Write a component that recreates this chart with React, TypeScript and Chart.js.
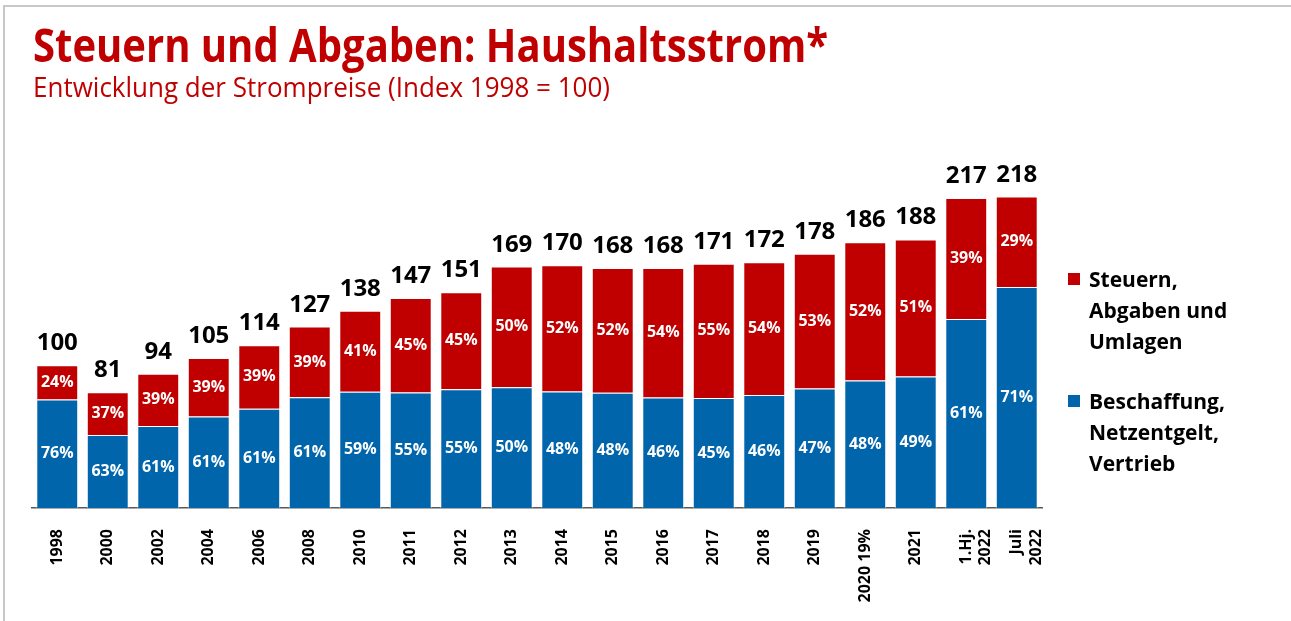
import React, { useEffect, useRef } from "react";
import { Chart, registerables } from "chart.js";

Chart.register(...registerables);

// ---- Data ----
const categories: (string | string[])[] = [
  "1998", "2000", "2002", "2004", "2006", "2008", "2010", "2011", "2012", "2013",
  "2014", "2015", "2016", "2017", "2018", "2019", "2020 19%", "2021",
  ["1.Hj.", "2022"], ["Juli", "2022"],
];
const totals = [100, 81, 94, 105, 114, 127, 138, 147, 151, 169, 170, 168, 168, 171, 172, 178, 186, 188, 217, 218];
const taxShare = [24, 37, 39, 39, 39, 39, 41, 45, 45, 50, 52, 52, 54, 55, 54, 53, 52, 51, 39, 29];
const supplyShare = [76, 63, 61, 61, 61, 61, 59, 55, 55, 50, 48, 48, 46, 45, 46, 47, 48, 49, 61, 71];
const seriesNames = ["Beschaffung, Netzentgelt, Vertrieb", "Steuern, Abgaben und Umlagen"];
const legendLines = [
  ["Steuern,", "Abgaben und", "Umlagen"],
  ["Beschaffung,", "Netzentgelt,", "Vertrieb"],
];
const titleText = "Steuern und Abgaben: Haushaltsstrom*";
const subtitleText = "Entwicklung der Strompreise (Index 1998 = 100)";

const supplyValues = totals.map((t, i) => (t * supplyShare[i]) / 100);
const taxValues = totals.map((t, i) => t - supplyValues[i]);
const shares = [supplyShare, taxShare];

const RED = "#C00000";
const BLUE = "#0065AB";
const FONT = "'Open Sans', 'DejaVu Sans', sans-serif";

const textPlugin = {
  id: "customText",
  afterDraw(chart: any) {
    const ctx = chart.ctx as CanvasRenderingContext2D;
    ctx.save();
    // Title & subtitle (condensed to match reference width)
    const drawFitted = (txt: string, font: string, x: number, y: number, w: number, color: string) => {
      ctx.font = font;
      ctx.fillStyle = color;
      ctx.textAlign = "left";
      ctx.textBaseline = "alphabetic";
      const mw = ctx.measureText(txt).width;
      ctx.save();
      ctx.translate(x, y);
      ctx.scale(w / mw, 1);
      ctx.fillText(txt, 0, 0);
      ctx.restore();
    };
    drawFitted(titleText, `bold 46px ${FONT}`, 33, 62, 795, RED);
    drawFitted(subtitleText, `28px ${FONT}`, 33, 97, 577, RED);

    // Legend
    const legendColors = [RED, BLUE];
    const legendTop = [287, 409];
    ctx.font = `bold 21px ${FONT}`;
    ctx.textAlign = "left";
    ctx.textBaseline = "alphabetic";
    legendLines.forEach((lines, k) => {
      ctx.fillStyle = legendColors[k];
      ctx.fillRect(1068, legendTop[k] - 14, 12, 12);
      ctx.fillStyle = "#000";
      lines.forEach((ln, j) => ctx.fillText(ln, 1089, legendTop[k] + j * 31));
    });
    ctx.restore();
  },
  afterDatasetsDraw(chart: any) {
    const ctx = chart.ctx as CanvasRenderingContext2D;
    ctx.save();
    ctx.textAlign = "center";
    ctx.textBaseline = "middle";
    ctx.font = `bold 16px ${FONT}`;
    ctx.fillStyle = "#fff";
    chart.data.datasets.forEach((ds: any, di: number) => {
      const meta = chart.getDatasetMeta(di);
      meta.data.forEach((el: any, i: number) => {
        ctx.fillText(`${shares[di][i]}%`, el.x, (el.y + el.base) / 2);
      });
    });
    const topMeta = chart.getDatasetMeta(chart.data.datasets.length - 1);
    ctx.font = `bold 24px ${FONT}`;
    ctx.fillStyle = "#000";
    ctx.textBaseline = "alphabetic";
    topMeta.data.forEach((el: any, i: number) => {
      ctx.fillText(String(totals[i]), el.x, el.y - 15);
    });
    ctx.restore();
  },
};

export default function App() {
  const ref = useRef<HTMLCanvasElement>(null);
  useEffect(() => {
    if (!ref.current) return;
    const chart = new Chart(ref.current, {
      type: "bar",
      data: {
        labels: categories as any,
        datasets: [
          {
            label: seriesNames[0],
            data: supplyValues,
            backgroundColor: BLUE,
            borderColor: "rgba(255,255,255,0.6)",
            borderWidth: 1,
            barPercentage: 0.83,
            categoryPercentage: 1,
          },
          {
            label: seriesNames[1],
            data: taxValues,
            backgroundColor: RED,
            borderColor: "rgba(255,255,255,0.6)",
            borderWidth: 1,
            barPercentage: 0.83,
            categoryPercentage: 1,
          },
        ],
      },
      options: {
        responsive: false,
        animation: false,
        layout: { padding: { left: 32, right: 249, top: 153, bottom: 0 } },
        plugins: {
          legend: { display: false },
          title: { display: false },
          tooltip: { enabled: false },
        },
        scales: {
          x: {
            stacked: true,
            grid: { display: false },
            border: { display: true, color: "#595959", width: 1.5 },
            ticks: {
              autoSkip: false,
              minRotation: 90,
              maxRotation: 90,
              padding: 13,
              color: "#000",
              font: { family: FONT, size: 16, weight: "bold" },
            },
            afterFit: (scale: any) => {
              scale.height = 113;
            },
          },
          y: {
            stacked: true,
            display: false,
            min: 0,
            max: 248.5,
          },
        },
      },
      plugins: [textPlugin],
    });
    return () => chart.destroy();
  }, []);

  return (
    <div style={{ position: "fixed", left: 0, top: 0, width: 1291, height: 621, background: "#fff" }}>
      <div
        style={{
          position: "absolute",
          left: 3,
          top: 5,
          right: 0,
          bottom: 0,
          borderTop: "2px solid #c8c8c8",
          borderLeft: "2px solid #c8c8c8",
        }}
      />
      <canvas ref={ref} width={1291} height={621} style={{ position: "absolute", left: 0, top: 0 }} />
    </div>
  );
}
